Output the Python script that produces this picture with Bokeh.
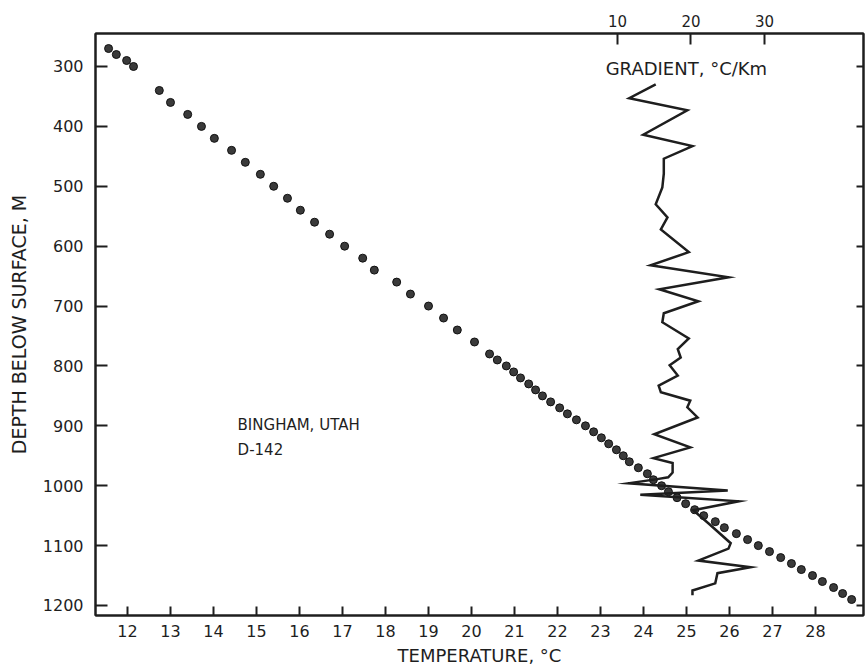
from bokeh.plotting import figure
from bokeh.models import Range1d, LinearAxis, FixedTicker, Label, ColumnDataSource
from bokeh.embed import file_html
from bokeh.resources import INLINE

# Temperature log (depth in m, temperature in deg C)
temp_depth = [270, 280, 290, 300,
              340, 360, 380, 400, 420, 440, 460, 480, 500, 520, 540, 560, 580,
              600, 620, 640, 660, 680, 700, 720, 740, 760, 780,
              790, 800, 810, 820, 830, 840, 850, 860, 870, 880, 890, 900,
              910, 920, 930, 940, 950, 960, 970, 980, 990, 1000,
              1010, 1020, 1030, 1040, 1050, 1060, 1070, 1080, 1090, 1100,
              1110, 1120, 1130, 1140, 1150, 1160, 1170, 1180, 1190]
temperature = [11.56, 11.74, 11.98, 12.14,
               12.74, 13.00, 13.40, 13.72, 14.02, 14.42, 14.74, 15.09, 15.40, 15.72, 16.02, 16.35, 16.70,
               17.05, 17.47, 17.74, 18.26, 18.58, 19.00, 19.35, 19.67, 20.07, 20.42,
               20.60, 20.81, 20.98, 21.14, 21.33, 21.49, 21.65, 21.84, 22.05, 22.23, 22.44, 22.65,
               22.84, 23.02, 23.19, 23.37, 23.53, 23.67, 23.88, 24.09, 24.23, 24.42,
               24.58, 24.78, 24.98, 25.19, 25.40, 25.67, 25.88, 26.16, 26.42, 26.67,
               26.93, 27.19, 27.44, 27.67, 27.93, 28.16, 28.42, 28.63, 28.84]

# Gradient profile (depth in m, gradient in deg C / km)
grad_depth = [330, 353, 373, 414, 433, 454, 479, 502, 530, 552, 572, 610, 632, 652,
              672, 692, 712, 727, 754, 772, 786, 799, 816, 833, 844, 858, 869, 886,
              914, 936, 954, 962, 978, 986, 989, 996, 1008, 1015, 1026, 1041, 1063,
              1096, 1105, 1125, 1136, 1146, 1163, 1175, 1183]
gradient = [15.2, 11.6, 19.5, 13.5, 20.2, 16.3, 16.3, 16.1, 15.2, 16.8, 15.9, 19.7, 14.5, 25.1,
            15.7, 21.0, 16.3, 16.1, 19.7, 18.2, 18.6, 17.1, 18.2, 15.6, 15.9, 19.9, 19.5, 20.9,
            15.0, 19.9, 14.9, 17.5, 17.5, 16.9, 15.4, 11.5, 25.0, 13.1, 26.5, 20.3, 22.4,
            25.4, 25.1, 21.0, 28.1, 23.6, 23.3, 20.2, 20.2]

temp_ticks = list(range(12, 29))
depth_ticks = list(range(300, 1201, 100))
grad_ticks = [10, 20, 30]

INK = "#1e1e1e"
FONT = "DejaVu Sans"

p = figure(width=866, height=670, output_backend="svg", toolbar_location=None,
           x_range=Range1d(11.256, 29.116), y_range=Range1d(1216.7, 244.9),
           min_border_left=95, min_border_right=3, min_border_top=33, min_border_bottom=55)
p.extra_x_ranges = {"grad": Range1d(-61.02, 43.47)}

p.xgrid.visible = False
p.ygrid.visible = False
p.outline_line_color = INK
p.outline_line_width = 2
p.background_fill_color = "white"
p.border_fill_color = "white"

def style_axis(ax, ticks, tick_in, label_size):
    ax.ticker = FixedTicker(ticks=ticks)
    ax.minor_tick_line_color = None
    ax.major_tick_in = tick_in
    ax.major_tick_out = 0
    ax.major_tick_line_width = 2
    ax.major_tick_line_color = INK
    ax.axis_line_width = 2
    ax.axis_line_color = INK
    ax.major_label_text_font = FONT
    ax.major_label_text_font_size = label_size
    ax.major_label_text_color = INK
    ax.axis_label_text_font = FONT
    ax.axis_label_text_font_style = "normal"
    ax.axis_label_text_color = INK

xa = p.xaxis[0]
style_axis(xa, temp_ticks, 9, "16px")
xa.axis_label = "TEMPERATURE, °C"
xa.axis_label_text_font_size = "18px"
xa.major_label_standoff = 9
xa.axis_label_standoff = 5

ya = p.yaxis[0]
style_axis(ya, depth_ticks, 12, "16px")
ya.axis_label = "DEPTH BELOW SURFACE, M"
ya.axis_label_text_font_size = "19px"
ya.major_label_standoff = 12
ya.axis_label_standoff = 10

top = LinearAxis(x_range_name="grad")
style_axis(top, grad_ticks, 11, "15px")
top.major_label_standoff = 7
p.add_layout(top, "above")

right = LinearAxis()
style_axis(right, depth_ticks, 7, "16px")
right.major_label_overrides = {t: "" for t in depth_ticks}
right.major_label_standoff = 0
p.add_layout(right, "right")

src_t = ColumnDataSource(dict(t=temperature, d=temp_depth))
p.scatter("t", "d", source=src_t, size=8, fill_color="#3a3a3a", line_color="#111111", line_width=1)

src_g = ColumnDataSource(dict(g=gradient, d=grad_depth))
p.line("g", "d", source=src_g, x_range_name="grad", line_color=INK, line_width=2.5, line_join="miter")

p.add_layout(Label(x=23.12, y=303, text="GRADIENT, °C/Km", text_font=FONT, text_font_size="18px",
                   text_color=INK, text_baseline="middle", text_align="left"))
p.add_layout(Label(x=14.56, y=899, text="BINGHAM, UTAH", text_font=FONT, text_font_size="15px",
                   text_color=INK, text_baseline="middle", text_align="left"))
p.add_layout(Label(x=14.56, y=941, text="D-142", text_font=FONT, text_font_size="15px",
                   text_color=INK, text_baseline="middle", text_align="left"))

open("out.html", "w").write(file_html(p, INLINE))
